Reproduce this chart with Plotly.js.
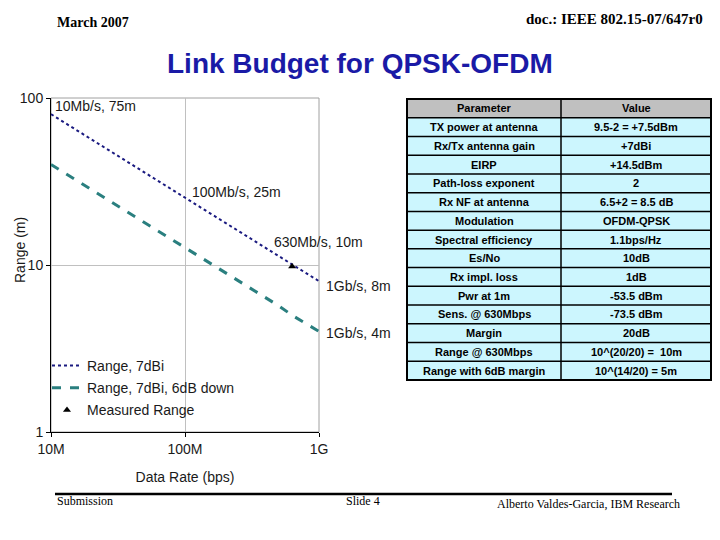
<!DOCTYPE html>
<html>
<head>
<meta charset="utf-8">
<script src="https://cdn.plot.ly/plotly-3.0.1.min.js"></script>
<style>
  html, body { margin: 0; padding: 0; background: #ffffff; }
  #chart { width: 720px; height: 540px; }
</style>
</head>
<body>
<div id="chart"></div>
<script>
// ---- data ----
const dataRate = [1e7, 2e7, 5e7, 1e8, 2e8, 5e8, 6.3e8, 1e9];
const range7dBi = [80, 56.6, 35.8, 25.3, 17.9, 11.3, 10.1, 8.0];
const range7dBi6dBdown = [40, 28.3, 17.9, 12.6, 8.9, 5.7, 5.0, 4.0];
const measuredRate = [6.3e8];
const measuredRange = [9.8];

const xTickVals = [1e7, 1e8, 1e9];
const xTickText = ['10M', '100M', '1G'];
const yTickVals = [1, 10, 100];
const yTickText = ['1', '10', '100'];

const pointLabels = ['10Mb/s, 75m', '100Mb/s, 25m', '630Mb/s, 10m', '1Gb/s, 8m', '1Gb/s, 4m'];

const tableParams = ['Parameter', 'TX power at antenna', 'Rx/Tx antenna gain', 'EIRP', 'Path-loss exponent',
  'Rx NF at antenna', 'Modulation', 'Spectral efficiency', 'Es/No', 'Rx impl. loss', 'Pwr at 1m',
  'Sens. @ 630Mbps', 'Margin', 'Range @ 630Mbps', 'Range with 6dB margin'];
const tableValues = ['Value', '9.5-2 = +7.5dBm', '+7dBi', '+14.5dBm', '2', '6.5+2 = 8.5 dB', 'OFDM-QPSK',
  '1.1bps/Hz', '10dB', '1dB', '-53.5 dBm', '-73.5 dBm', '20dB', '10^(20/20) =  10m', '10^(14/20) = 5m'];

// ---- layout helpers (pixel -> paper) ----
const W = 720, H = 540;
const px = v => v / W;
const py = v => 1 - v / H;

const font = 'Arial, "Liberation Sans", sans-serif';
const serif = '"Times New Roman", "Liberation Serif", serif';
const txt = '#1a1a1a';

const traces = [
  {
    type: 'scatter', mode: 'lines', name: 'Range, 7dBi',
    x: dataRate, y: range7dBi, legendgroup: 'a',
    line: { color: '#1a1a80', width: 2, dash: 'dot' }
  },
  {
    type: 'scatter', mode: 'lines', name: 'Range, 7dBi, 6dB down',
    x: dataRate, y: range7dBi6dBdown, legendgroup: 'b',
    line: { color: '#2a7f7f', width: 3, dash: 'dash' }
  },
  {
    type: 'scatter', mode: 'markers', name: 'Measured Range',
    x: measuredRate, y: measuredRange, legendgroup: 'c',
    marker: { symbol: 'triangle-up', size: 7, color: '#000000' }
  }
];

const labelPos = [
  [53, 106], [190, 192], [272, 242], [324, 286], [324, 333]
];
const annotations = pointLabels.map((t, i) => ({
  text: t, xref: 'paper', yref: 'paper', x: px(labelPos[i][0]), y: py(labelPos[i][1]),
  xanchor: 'left', yanchor: 'middle', showarrow: false,
  font: { family: font, size: 14, color: txt }
}));

annotations.push(
  { text: 'Range (m)', xref: 'paper', yref: 'paper', x: px(20), y: py(250), textangle: -90,
    xanchor: 'center', yanchor: 'middle', showarrow: false,
    font: { family: font, size: 14, color: txt } },
  { text: '<b>Link Budget for QPSK-OFDM</b>', xref: 'paper', yref: 'paper', x: px(360), y: py(64),
    xanchor: 'center', yanchor: 'middle', showarrow: false,
    font: { family: font, size: 28, color: '#1a1aa6' } },
  { text: '<b>March 2007</b>', xref: 'paper', yref: 'paper', x: px(55), y: py(22),
    xanchor: 'left', yanchor: 'middle', showarrow: false,
    font: { family: serif, size: 14, color: '#000000' } },
  { text: '<b>doc.: IEEE 802.15-07/647r0</b>', xref: 'paper', yref: 'paper', x: px(705), y: py(19),
    xanchor: 'right', yanchor: 'middle', showarrow: false,
    font: { family: serif, size: 15, color: '#000000' } },
  { text: 'Submission', xref: 'paper', yref: 'paper', x: px(55), y: py(501),
    xanchor: 'left', yanchor: 'middle', showarrow: false,
    font: { family: serif, size: 12, color: '#000000' } },
  { text: 'Slide 4', xref: 'paper', yref: 'paper', x: px(363), y: py(501),
    xanchor: 'center', yanchor: 'middle', showarrow: false,
    font: { family: serif, size: 12, color: '#000000' } },
  { text: 'Alberto Valdes-Garcia, IBM Research', xref: 'paper', yref: 'paper', x: px(682), y: py(504),
    xanchor: 'right', yanchor: 'middle', showarrow: false,
    font: { family: serif, size: 12, color: '#000000' } }
);

const shapes = [
  { type: 'rect', xref: 'x domain', yref: 'y domain', x0: 0, x1: 1, y0: 0, y1: 1,
    line: { color: '#a0a0a0', width: 1 }, layer: 'below' },
  { type: 'line', xref: 'paper', yref: 'paper', x0: px(55), x1: px(672), y0: py(494), y1: py(494),
    line: { color: '#000000', width: 2.5 } }
];

// ---- table built from the arrays (shapes + annotations) ----
const tL = 407, tM = 561, tR = 711, tT = 99, tB = 380;
const nRows = tableParams.length;
const rowH = (tB - tT) / nRows;
for (let i = 0; i < nRows; i++) {
  const y0 = tT + i * rowH, y1 = y0 + rowH;
  const fill = i === 0 ? '#c0c0c0' : '#ccf6fe';
  shapes.push({ type: 'rect', xref: 'paper', yref: 'paper', x0: px(tL), x1: px(tR), y0: py(y1), y1: py(y0),
    fillcolor: fill, line: { width: 0 } });
  if (i > 0) {
    shapes.push({ type: 'line', xref: 'paper', yref: 'paper', x0: px(tL), x1: px(tR), y0: py(y0), y1: py(y0),
      line: { color: '#000000', width: 1.5 } });
  }
  const yc = py((y0 + y1) / 2);
  annotations.push(
    { text: '<b>' + tableParams[i] + '</b>', xref: 'paper', yref: 'paper', x: px((tL + tM) / 2), y: yc,
      xanchor: 'center', yanchor: 'middle', showarrow: false,
      font: { family: font, size: 11, color: '#000000' } },
    { text: '<b>' + tableValues[i] + '</b>', xref: 'paper', yref: 'paper', x: px((tM + tR) / 2), y: yc,
      xanchor: 'center', yanchor: 'middle', showarrow: false,
      font: { family: font, size: 11, color: '#000000' } }
  );
}
shapes.push(
  { type: 'line', xref: 'paper', yref: 'paper', x0: px(tM), x1: px(tM), y0: py(tB), y1: py(tT),
    line: { color: '#000000', width: 1.5 } },
  { type: 'rect', xref: 'paper', yref: 'paper', x0: px(tL), x1: px(tR), y0: py(tB), y1: py(tT),
    line: { color: '#000000', width: 2 } }
);

const layout = {
  width: W, height: H,
  margin: { l: 0, r: 0, t: 0, b: 0 },
  paper_bgcolor: '#ffffff', plot_bgcolor: '#ffffff',
  showlegend: true,
  legend: {
    x: px(47), y: py(350), xanchor: 'left', yanchor: 'top',
    bgcolor: 'rgba(0,0,0,0)', borderwidth: 0,
    font: { family: font, size: 14, color: txt },
    itemwidth: 30, tracegroupgap: 1
  },
  xaxis: {
    type: 'log', domain: [px(51), px(319)],
    range: [7, 9],
    tickvals: xTickVals, ticktext: xTickText,
    ticks: 'outside', ticklen: 4, tickcolor: '#000000',
    showline: true, linecolor: '#000000', linewidth: 1,
    showgrid: true, gridcolor: '#c0c0c0', gridwidth: 1,
    zeroline: false,
    tickfont: { family: font, size: 14, color: txt },
    title: { text: 'Data Rate (bps)', standoff: 16, font: { family: font, size: 14, color: txt } }
  },
  yaxis: {
    type: 'log', domain: [py(432), py(98)],
    range: [0, 2],
    tickvals: yTickVals, ticktext: yTickText,
    ticks: 'outside', ticklen: 4, tickcolor: '#000000',
    showline: true, linecolor: '#000000', linewidth: 1,
    showgrid: true, gridcolor: '#c0c0c0', gridwidth: 1,
    zeroline: false,
    tickfont: { family: font, size: 14, color: txt }
  },
  shapes: shapes,
  annotations: annotations
};

Plotly.newPlot('chart', traces, layout, { displayModeBar: false, staticPlot: true });
</script>
</body>
</html>
